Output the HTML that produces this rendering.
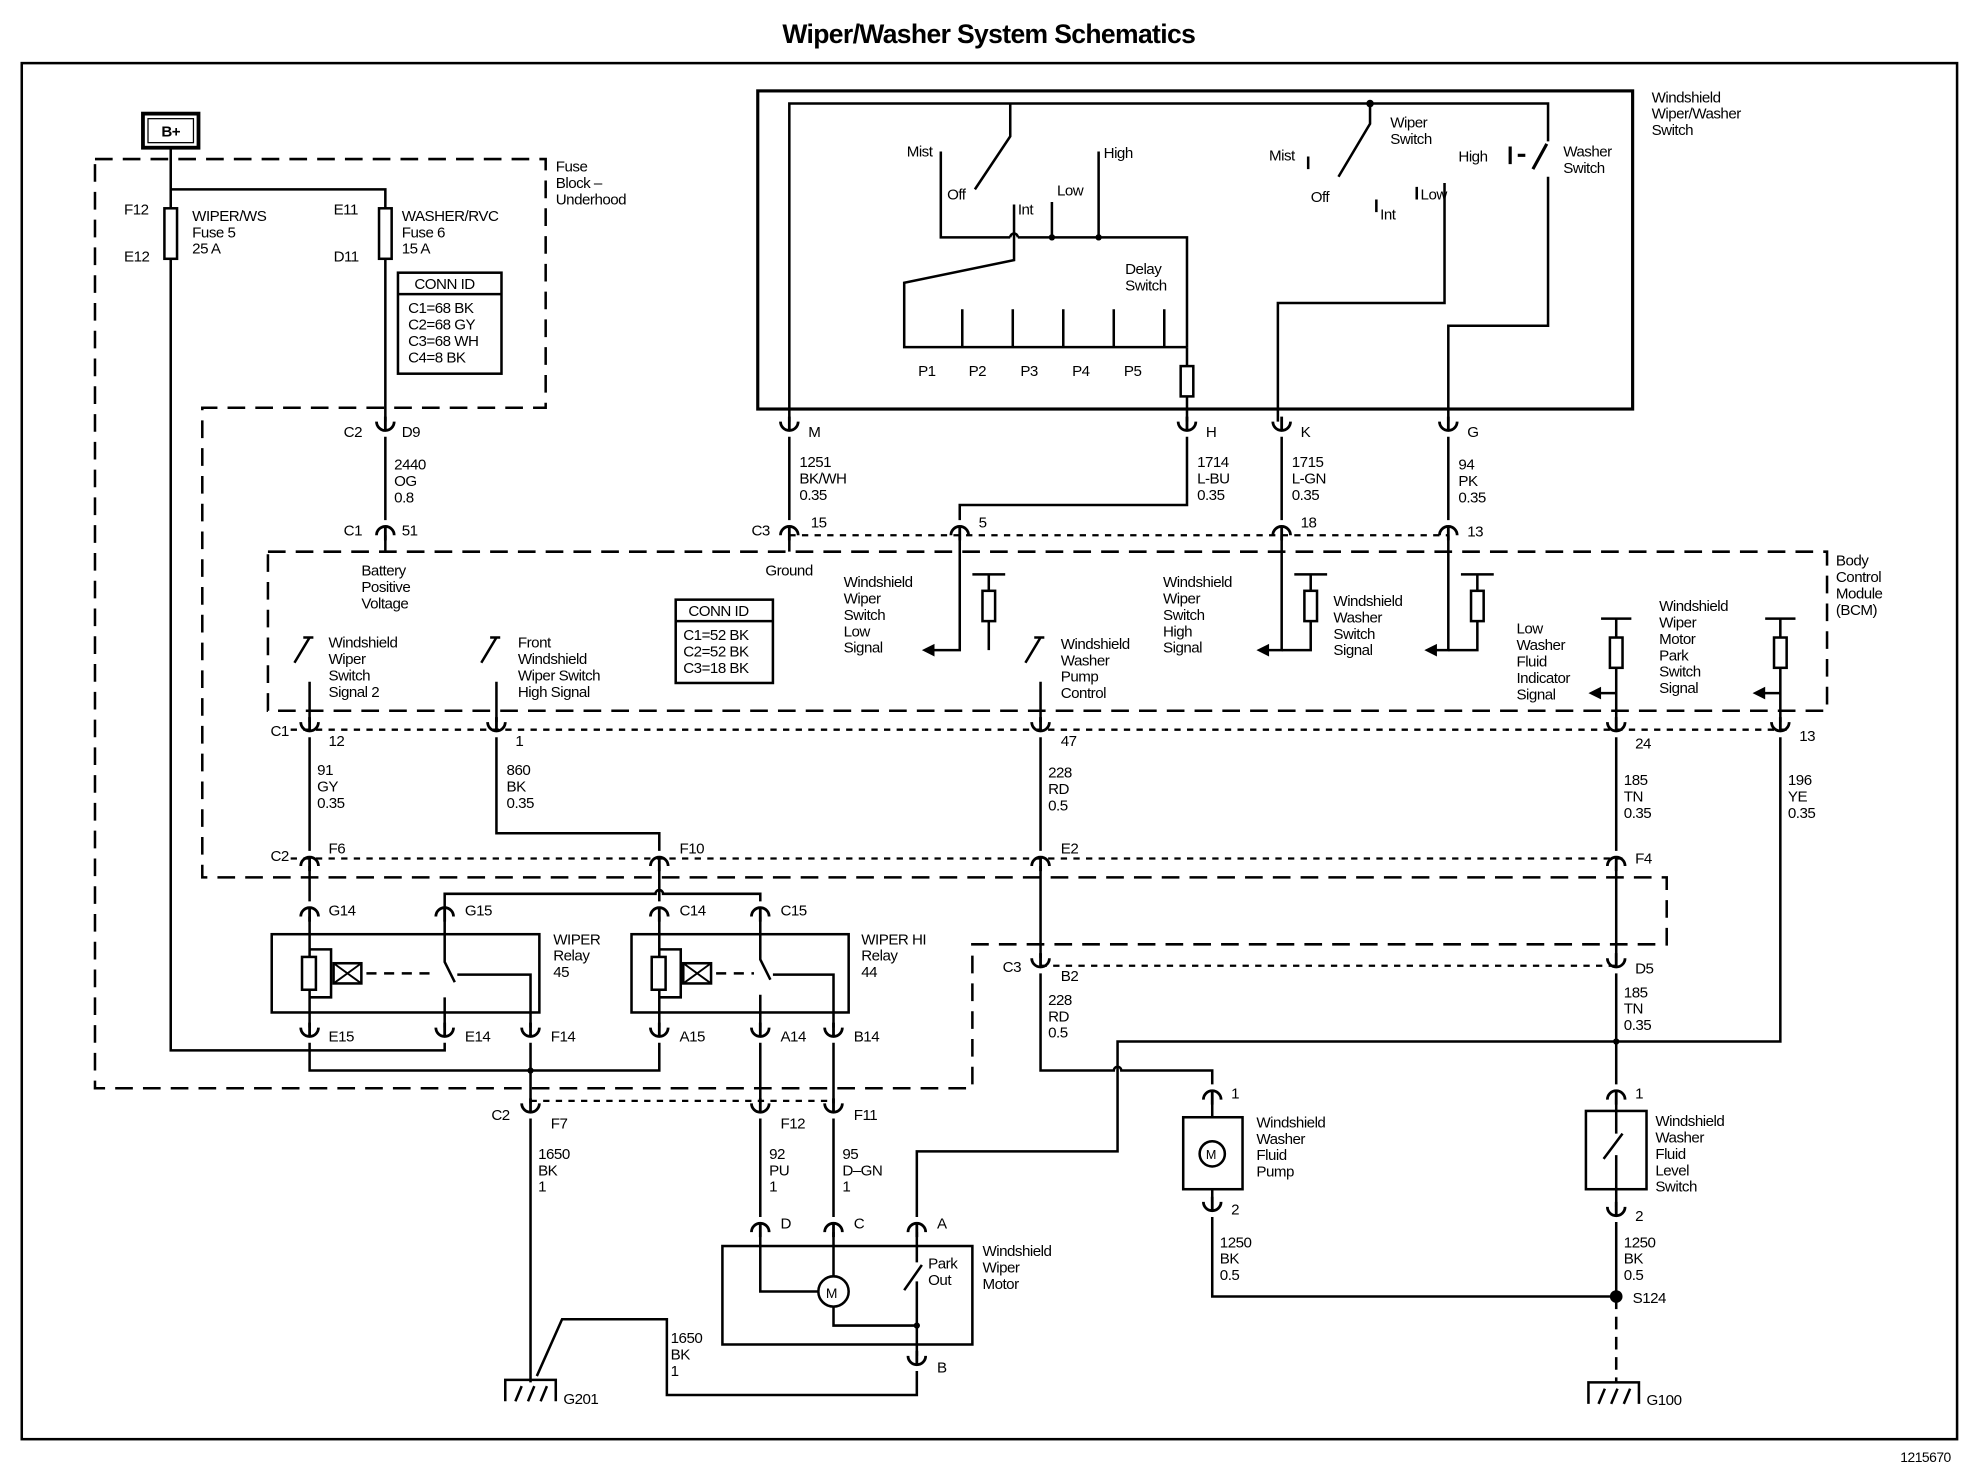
<!DOCTYPE html>
<html><head><meta charset="utf-8"><style>
html,body{margin:0;padding:0;background:#fff}
svg{display:block}
text{font-family:"Liberation Sans Narrow","Liberation Sans",sans-serif;font-size:12px;letter-spacing:-0.4px;fill:#000}
</style></head><body>
<svg width="1970" height="1472" viewBox="0 0 1560 1166" xmlns="http://www.w3.org/2000/svg">
<defs>
<path id="cu" d="M-7,-6 A7,7 0 0 0 7,-6 M0,1 V-10" fill="none" stroke="#000" stroke-width="2.2"/>
<path id="cn" d="M-7,6 A7,7 0 0 1 7,6 M0,-1 V10" fill="none" stroke="#000" stroke-width="2.2"/>
</defs>
<rect width="1560" height="1166" fill="#fff"/>
<text x="783" y="34" text-anchor="middle" style="font-family:'Liberation Sans',sans-serif;font-size:21px;font-weight:bold;letter-spacing:-0.5px">Wiper/Washer System Schematics</text>
<rect x="17" y="50" width="1533" height="1090" fill="none" stroke="#000" stroke-width="2"/>
<text x="1545" y="1158" text-anchor="end" style="font-size:11px">1215670</text>

<g fill="none" stroke="#000" stroke-width="2">
<path d="M75,126 H432 V323 H160 V695 H1320 V748 H770 V862 H75 Z" stroke-dasharray="14,8"/>
<rect x="212" y="437" width="1235" height="126" stroke-dasharray="14,8"/>
<g stroke-dasharray="5,5" stroke-width="1.8">
<path d="M625,424 H1147"/><path d="M230,578 H1420"/><path d="M230,680 H1290"/><path d="M824,765 H1280"/><path d="M420,872 H660"/>
</g>
<rect x="600" y="72" width="693" height="252" stroke-width="2.5"/>
<rect x="113" y="90" width="44" height="27" stroke-width="3"/>
<rect x="117" y="94" width="36" height="19" stroke-width="1"/>
<path d="M135,117 V832 H352 V826"/>
<path d="M135,150 H305 V334"/>
<rect x="130" y="165" width="10" height="40" fill="#fff"/>
<rect x="300" y="165" width="10" height="40" fill="#fff"/>
<rect x="315" y="216" width="82" height="80"/>
<path d="M315,233 H397"/>
<path d="M305,346 V412"/>
<path d="M305,424 V437"/>
<path d="M625,334 V82 H1226 V112"/>
<path d="M800,82 V108 L772,150"/>
<path d="M1085,82 V98 L1060,140"/>
<path d="M745,120 V188 H800 M806,188 H940 V275"/>
<path d="M800,188 a3,3 0 0 1 6,0"/>
<path d="M803,162 V206 L716,224 V275 H940"/>
<path d="M833,160 V188 M870,120 V188"/>
<path d="M762,245 V275 M802,245 V275 M842,245 V275 M882,245 V275 M922,245 V275"/>
<path d="M940,275 V334"/>
<rect x="935" y="290" width="10" height="24" fill="#fff"/>
<path d="M1036,124 V134 M1090,158 V168 M1122,148 V158"/>
<path d="M1144,145 V240 H1012 V334"/>
<path d="M1226,140 V258 H1147 V334"/>
<path d="M1225,114 L1214,134" stroke-width="2.5"/>
<path d="M1196,116 V130 M1202,123 H1208" stroke-width="2.5"/>
<path d="M625,346 V412 M625,424 V437"/>
<path d="M940,346 V400 H760 V412 M760,424 V515 H738"/>
<path d="M1015,346 V412 M1015,424 V515 H1003"/>
<path d="M1147,346 V412 M1147,424 V515 H1136"/>
<path d="M770,455 H796 M783,455 V515 M1025,455 H1051 M1038,455 V515 H1015 M1157,455 H1183 M1170,455 V515 H1147"/>
<rect x="778" y="468" width="10" height="24" fill="#fff"/>
<rect x="1033" y="468" width="10" height="24" fill="#fff"/>
<rect x="1165" y="468" width="10" height="24" fill="#fff"/>
<path d="M1268,490 H1292 M1280,490 V572 M1280,549 H1266"/>
<rect x="1275" y="505" width="10" height="24" fill="#fff"/>
<path d="M1398,490 H1422 M1410,490 V572 M1410,549 H1396"/>
<rect x="1405" y="505" width="10" height="24" fill="#fff"/>
<path d="M245,572 V540 M233,525 L245,505 M240,505 H248"/>
<path d="M393,572 V540 M381,525 L393,505 M388,505 H396"/>
<path d="M824,572 V540 M812,525 L824,505 M819,505 H827"/>
<path d="M245,584 V674 M245,686 V714"/>
<path d="M393,584 V660 H522 V674 M522,686 V714"/>
<path d="M824,584 V674 M824,686 V759 M824,771 V848 H882 a3,3 0 0 1 6,0 H960 V859"/>
<path d="M1280,584 V674 M1280,686 V759 M1280,771 V859"/>
<path d="M1410,584 V825 H885 V912 H726 V964"/>
<rect x="215" y="740" width="212" height="62"/>
<rect x="500" y="740" width="172" height="62"/>
<path d="M245,726 V814 M245,752 H262 V790 H245"/>
<rect x="239" y="758" width="11" height="26" fill="#fff"/>
<rect x="264" y="763" width="22" height="16"/>
<path d="M264,763 L286,779 M286,763 L264,779" stroke-width="1.5"/>
<path d="M290,771 H345" stroke-dasharray="8,6"/>
<path d="M352,726 V708 H519 a3,3 0 0 1 6,0 H602 V714"/>
<path d="M352,726 V762 L360,778 M362,772 H420 V814 M352,790 V814"/>
<path d="M522,726 V814 M522,752 H539 V790 H522"/>
<rect x="516" y="758" width="11" height="26" fill="#fff"/>
<rect x="541" y="763" width="22" height="16"/>
<path d="M541,763 L563,779 M563,763 L541,779" stroke-width="1.5"/>
<path d="M567,771 H597" stroke-dasharray="8,6"/>
<path d="M602,726 V760 L610,776 M612,772 H660 V814 M602,788 V814"/>
<path d="M245,826 V848 H522 V826"/>
<path d="M420,826 V874 M420,886 V1095"/>
<path d="M602,826 V874 M602,886 V964"/>
<path d="M660,826 V874 M660,886 V964"/>
<rect x="572" y="987" width="198" height="78"/>
<path d="M602,976 V1023 H648 M660,976 V1011 M660,1035 V1050 H726 M726,976 V1000 M716,1022 L730,1002 M726,1015 V1074"/>
<circle cx="660" cy="1023" r="12" fill="#fff"/>
<path d="M726,1086 V1105 H528 V1045 H445 L425,1090"/>
<path d="M400,1110 V1093 H440 V1110 M408,1110 L413,1098 M418,1110 L423,1098 M428,1110 L433,1098"/>
<path d="M1258,1112 V1095 H1298 V1112 M1266,1112 L1271,1100 M1276,1112 L1281,1100 M1286,1112 L1291,1100"/>
<rect x="937" y="885" width="47" height="57"/>
<path d="M960,871 V885 M960,942 V952 M960,964 V1027 H1280"/>
<circle cx="960" cy="914" r="10" fill="#fff"/>
<rect x="1256" y="880" width="48" height="62"/>
<path d="M1280,871 V898 M1270,918 L1285,898 M1280,915 V956 M1280,968 V1027"/>
<path d="M1280,1027 V1095" stroke-dasharray="10,6"/>
</g>
<g fill="#000">
<polygon points="730,515 740,510 740,520"/><polygon points="995,515 1005,510 1005,520"/><polygon points="1128,515 1138,510 1138,520"/>
<polygon points="1258,549 1268,544 1268,554"/><polygon points="1388,549 1398,544 1398,554"/>
<circle cx="1280" cy="1027" r="5"/><circle cx="1280" cy="825" r="2.5"/><circle cx="1085" cy="82" r="3"/>
<circle cx="833" cy="188" r="2.5"/><circle cx="870" cy="188" r="2.5"/><circle cx="726" cy="1050" r="2.5"/>
<circle cx="420" cy="848" r="2.5"/>
</g>
<g>
<use href="#cu" x="305" y="340"/><use href="#cn" x="305" y="418"/>
<use href="#cu" x="625" y="340"/><use href="#cu" x="940" y="340"/><use href="#cu" x="1015" y="340"/><use href="#cu" x="1147" y="340"/>
<use href="#cn" x="625" y="418"/><use href="#cn" x="760" y="418"/><use href="#cn" x="1015" y="418"/><use href="#cn" x="1147" y="418"/>
<use href="#cu" x="245" y="578"/><use href="#cu" x="393" y="578"/><use href="#cu" x="824" y="578"/><use href="#cu" x="1280" y="578"/><use href="#cu" x="1410" y="578"/>
<use href="#cn" x="245" y="680"/><use href="#cn" x="522" y="680"/><use href="#cn" x="824" y="680"/><use href="#cn" x="1280" y="680"/>
<use href="#cn" x="245" y="720"/><use href="#cn" x="352" y="720"/><use href="#cn" x="522" y="720"/><use href="#cn" x="602" y="720"/>
<use href="#cu" x="245" y="820"/><use href="#cu" x="352" y="820"/><use href="#cu" x="420" y="820"/><use href="#cu" x="522" y="820"/><use href="#cu" x="602" y="820"/><use href="#cu" x="660" y="820"/>
<use href="#cu" x="420" y="880"/><use href="#cu" x="602" y="880"/><use href="#cu" x="660" y="880"/>
<use href="#cu" x="824" y="765"/><use href="#cu" x="1280" y="765"/>
<use href="#cn" x="602" y="970"/><use href="#cn" x="660" y="970"/><use href="#cn" x="726" y="970"/><use href="#cu" x="726" y="1080"/>
<use href="#cn" x="960" y="865"/><use href="#cu" x="960" y="958"/><use href="#cn" x="1280" y="865"/><use href="#cu" x="1280" y="962"/>
</g>
<text x="135" y="108" text-anchor="middle" style="font-weight:bold;font-size:12px">B+</text>
<text x="98" y="170">F12</text><text x="98" y="207">E12</text>
<text x="152" y="175">WIPER/WS</text><text x="152" y="188">Fuse 5</text><text x="152" y="201">25 A</text>
<text x="264" y="170">E11</text><text x="264" y="207">D11</text>
<text x="318" y="175">WASHER/RVC</text><text x="318" y="188">Fuse 6</text><text x="318" y="201">15 A</text>
<text x="328" y="229">CONN ID</text><text x="323" y="248">C1=68 BK</text><text x="323" y="261">C2=68 GY</text><text x="323" y="274">C3=68 WH</text><text x="323" y="287">C4=8 BK</text>
<text x="440" y="136">Fuse</text><text x="440" y="149">Block –</text><text x="440" y="162">Underhood</text>
<text x="272" y="346">C2</text><text x="318" y="346">D9</text>
<text x="312" y="372">2440</text><text x="312" y="385">OG</text><text x="312" y="398">0.8</text>
<text x="272" y="424">C1</text><text x="318" y="424">51</text>
<text x="286" y="456">Battery</text><text x="286" y="469">Positive</text><text x="286" y="482">Voltage</text>
<text x="718" y="124">Mist</text><text x="750" y="158">Off</text><text x="806" y="170">Int</text><text x="837" y="155">Low</text><text x="874" y="125">High</text>
<text x="891" y="217">Delay</text><text x="891" y="230">Switch</text>
<text x="727" y="298">P1</text><text x="767" y="298">P2</text><text x="808" y="298">P3</text><text x="849" y="298">P4</text><text x="890" y="298">P5</text>
<text x="1005" y="127">Mist</text><text x="1038" y="160">Off</text><text x="1093" y="174">Int</text><text x="1125" y="158">Low</text><text x="1155" y="128">High</text>
<text x="1101" y="101">Wiper</text><text x="1101" y="114">Switch</text>
<text x="1238" y="124">Washer</text><text x="1238" y="137">Switch</text>
<text x="1308" y="81">Windshield</text><text x="1308" y="94">Wiper/Washer</text><text x="1308" y="107">Switch</text>
<text x="640" y="346">M</text><text x="955" y="346">H</text><text x="1030" y="346">K</text><text x="1162" y="346">G</text>
<text x="633" y="370">1251</text><text x="633" y="383">BK/WH</text><text x="633" y="396">0.35</text>
<text x="948" y="370">1714</text><text x="948" y="383">L-BU</text><text x="948" y="396">0.35</text>
<text x="1023" y="370">1715</text><text x="1023" y="383">L-GN</text><text x="1023" y="396">0.35</text>
<text x="1155" y="372">94</text><text x="1155" y="385">PK</text><text x="1155" y="398">0.35</text>
<text x="595" y="424">C3</text><text x="642" y="418">15</text><text x="775" y="418">5</text><text x="1030" y="418">18</text><text x="1162" y="425">13</text>
<text x="606" y="456">Ground</text>
<text x="1454" y="448">Body</text><text x="1454" y="461">Control</text><text x="1454" y="474">Module</text><text x="1454" y="487">(BCM)</text>
<text x="668" y="465">Windshield</text><text x="668" y="478">Wiper</text><text x="668" y="491">Switch</text><text x="668" y="504">Low</text><text x="668" y="517">Signal</text>
<text x="921" y="465">Windshield</text><text x="921" y="478">Wiper</text><text x="921" y="491">Switch</text><text x="921" y="504">High</text><text x="921" y="517">Signal</text>
<text x="1056" y="480">Windshield</text><text x="1056" y="493">Washer</text><text x="1056" y="506">Switch</text><text x="1056" y="519">Signal</text>
<text x="1201" y="502">Low</text><text x="1201" y="515">Washer</text><text x="1201" y="528">Fluid</text><text x="1201" y="541">Indicator</text><text x="1201" y="554">Signal</text>
<text x="1314" y="484">Windshield</text><text x="1314" y="497">Wiper</text><text x="1314" y="510">Motor</text><text x="1314" y="523">Park</text><text x="1314" y="536">Switch</text><text x="1314" y="549">Signal</text>
<rect x="535" y="475" width="77" height="66" fill="none" stroke="#000" stroke-width="2"/>
<line x1="535" y1="492" x2="612" y2="492" stroke="#000" stroke-width="2"/>
<text x="545" y="488">CONN ID</text><text x="541" y="507">C1=52 BK</text><text x="541" y="520">C2=52 BK</text><text x="541" y="533">C3=18 BK</text>
<text x="260" y="513">Windshield</text><text x="260" y="526">Wiper</text><text x="260" y="539">Switch</text><text x="260" y="552">Signal 2</text>
<text x="410" y="513">Front</text><text x="410" y="526">Windshield</text><text x="410" y="539">Wiper Switch</text><text x="410" y="552">High Signal</text>
<text x="840" y="514">Windshield</text><text x="840" y="527">Washer</text><text x="840" y="540">Pump</text><text x="840" y="553">Control</text>
<text x="214" y="583">C1</text><text x="260" y="591">12</text><text x="408" y="591">1</text><text x="840" y="591">47</text><text x="1295" y="593">24</text><text x="1425" y="587">13</text>
<text x="251" y="614">91</text><text x="251" y="627">GY</text><text x="251" y="640">0.35</text>
<text x="401" y="614">860</text><text x="401" y="627">BK</text><text x="401" y="640">0.35</text>
<text x="830" y="616">228</text><text x="830" y="629">RD</text><text x="830" y="642">0.5</text>
<text x="1286" y="622">185</text><text x="1286" y="635">TN</text><text x="1286" y="648">0.35</text>
<text x="1416" y="622">196</text><text x="1416" y="635">YE</text><text x="1416" y="648">0.35</text>
<text x="214" y="682">C2</text><text x="260" y="676">F6</text><text x="538" y="676">F10</text><text x="840" y="676">E2</text><text x="1295" y="684">F4</text>
<text x="260" y="725">G14</text><text x="368" y="725">G15</text><text x="538" y="725">C14</text><text x="618" y="725">C15</text>
<text x="438" y="748">WIPER</text><text x="438" y="761">Relay</text><text x="438" y="774">45</text>
<text x="682" y="748">WIPER HI</text><text x="682" y="761">Relay</text><text x="682" y="774">44</text>
<text x="260" y="825">E15</text><text x="368" y="825">E14</text><text x="436" y="825">F14</text><text x="538" y="825">A15</text><text x="618" y="825">A14</text><text x="676" y="825">B14</text>
<text x="794" y="770">C3</text><text x="840" y="777">B2</text><text x="1295" y="771">D5</text>
<text x="830" y="796">228</text><text x="830" y="809">RD</text><text x="830" y="822">0.5</text>
<text x="1286" y="790">185</text><text x="1286" y="803">TN</text><text x="1286" y="816">0.35</text>
<text x="389" y="887">C2</text><text x="436" y="894">F7</text><text x="618" y="894">F12</text><text x="676" y="887">F11</text>
<text x="426" y="918">1650</text><text x="426" y="931">BK</text><text x="426" y="944">1</text>
<text x="609" y="918">92</text><text x="609" y="931">PU</text><text x="609" y="944">1</text>
<text x="667" y="918">95</text><text x="667" y="931">D–GN</text><text x="667" y="944">1</text>
<text x="618" y="973">D</text><text x="676" y="973">C</text><text x="742" y="973">A</text><text x="742" y="1087">B</text>
<text x="735" y="1005">Park</text><text x="735" y="1018">Out</text>
<text x="778" y="995">Windshield</text><text x="778" y="1008">Wiper</text><text x="778" y="1021">Motor</text>
<text x="531" y="1064">1650</text><text x="531" y="1077">BK</text><text x="531" y="1090">1</text>
<text x="446" y="1112">G201</text><text x="1304" y="1113">G100</text>
<text x="975" y="870">1</text><text x="975" y="962">2</text><text x="1295" y="870">1</text><text x="1295" y="967">2</text>
<text x="955" y="918" style="font-size:10px">M</text>
<text x="995" y="893">Windshield</text><text x="995" y="906">Washer</text><text x="995" y="919">Fluid</text><text x="995" y="932">Pump</text>
<text x="1311" y="892">Windshield</text><text x="1311" y="905">Washer</text><text x="1311" y="918">Fluid</text><text x="1311" y="931">Level</text><text x="1311" y="944">Switch</text>
<text x="966" y="988">1250</text><text x="966" y="1001">BK</text><text x="966" y="1014">0.5</text>
<text x="1286" y="988">1250</text><text x="1286" y="1001">BK</text><text x="1286" y="1014">0.5</text>
<text x="1293" y="1032">S124</text>
<text x="654" y="1028" style="font-size:11px">M</text>
</svg>
</body></html>
